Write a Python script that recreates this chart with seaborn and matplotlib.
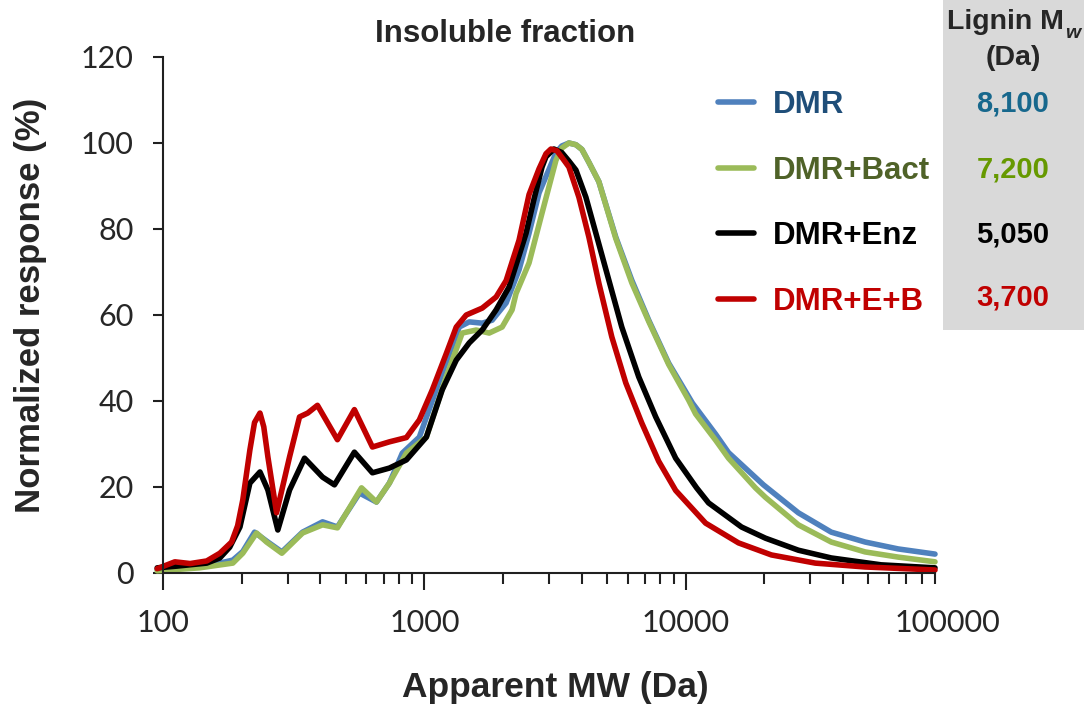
import numpy as np
import pandas as pd
import matplotlib
matplotlib.use("Agg")
import matplotlib.pyplot as plt
import seaborn as sns
from matplotlib.patches import Rectangle
from matplotlib.lines import Line2D
from matplotlib.ticker import FixedLocator, LogLocator, NullFormatter, FuncFormatter
from matplotlib.font_manager import FontProperties

# ---------------- data ----------------
series_names = ["DMR", "DMR+Bact", "DMR+Enz", "DMR+E+B"]

dmr_mw = [95, 147, 185, 202, 224, 252, 285, 342, 408, 465, 565, 656, 735, 824, 957,
          1171, 1360, 1485, 1665, 1818, 2056, 2304, 2516, 2748, 3190, 3356, 3576, 3804,
          4010, 4264, 4656, 5404, 6221, 7223, 8612, 10620, 13020, 14590, 19850, 27000,
          36080, 48640, 65010, 90000]
dmr_resp = [0.8, 1.6, 3.0, 5.0, 9.5, 7.2, 4.9, 9.5, 11.9, 10.7, 18.6, 16.5, 20.9, 27.9, 31.6,
            46.5, 57.2, 58.4, 58.1, 58.8, 62.8, 70.5, 79.0, 88.4, 97.7, 99.3, 100.0, 99.6,
            98.5, 95.5, 91.0, 78.1, 68.1, 58.8, 48.8, 39.5, 32.3, 28.0, 20.5, 14.0,
            9.5, 7.2, 5.6, 4.4]

bact_mw = [95, 138, 185, 202, 228, 249, 285, 342, 408, 465, 575, 656, 735, 854, 1018,
           1213, 1396, 1579, 1771, 1985, 2167, 2244, 2516, 2821, 3190, 3356, 3576, 3804,
           4010, 4264, 4656, 5404, 6221, 7223, 8612, 10268, 10919, 13020, 14590, 18500,
           20200, 27000, 36080, 48640, 65010, 90000]
bact_resp = [0.5, 1.2, 2.3, 4.6, 9.3, 7.2, 4.6, 9.3, 11.2, 10.5, 19.8, 16.5, 20.9, 27.9, 31.6,
             45.6, 55.8, 56.5, 55.8, 57.2, 61.2, 65.0, 72.1, 83.7, 96.0, 98.8, 100.0, 99.6,
             98.5, 95.5, 91.0, 77.8, 67.5, 58.5, 48.5, 40.2, 37.0, 30.9, 26.7, 19.8,
             17.6, 11.2, 7.2, 4.9, 3.7, 2.6]

enz_mw = [95, 113, 147, 165, 180, 197, 215, 235, 252, 275, 305, 348, 408, 453, 540, 633,
          735, 854, 1018, 1171, 1325, 1485, 1665, 1883, 2110, 2451, 2630, 2821, 2921, 3134,
          3356, 3576, 3804, 4152, 4535, 5083, 5697, 6616, 7683, 9159, 11015, 12240, 16359,
          20200, 27000, 36080, 55990, 90000]
enz_resp = [1.2, 1.6, 2.3, 3.5, 6.0, 10.7, 20.9, 23.5, 19.3, 10.0, 19.3, 26.7, 22.3, 20.5, 28.1, 23.3,
            24.4, 26.3, 31.6, 42.6, 49.5, 53.5, 56.5, 61.2, 66.5, 79.0, 87.0, 94.4, 96.8, 98.6,
            97.8, 95.8, 93.7, 87.4, 79.0, 68.1, 57.2, 45.6, 36.3, 26.7, 19.8, 16.3, 10.7,
            8.1, 5.3, 3.5, 1.9, 1.2]

eb_mw = [95, 111, 127, 147, 165, 183, 193, 202, 215, 224, 235, 243, 252, 272, 305, 333,
         358, 390, 465, 540, 633, 735, 854, 957, 1073, 1213, 1325, 1447, 1665, 1883,
         2056, 2304, 2516, 2748, 2921, 3052, 3218, 3422, 3576, 3904, 4264, 4656, 5218,
         5902, 6793, 7885, 9159, 11922, 15934, 21290, 31340, 48640, 90000]
eb_resp = [1.0, 2.6, 2.2, 2.8, 4.6, 7.2, 11.0, 17.0, 28.6, 35.0, 37.2, 34.0, 27.0, 14.0, 27.0, 36.3,
           37.2, 39.0, 31.0, 38.0, 29.3, 30.5, 31.5, 35.6, 42.6, 51.0, 57.2, 60.0, 61.6, 64.2,
           68.0, 77.4, 88.0, 94.0, 97.5, 98.6, 98.2, 96.0, 94.4, 87.4, 78.1, 67.4, 54.9,
           44.2, 34.9, 26.0, 19.2, 11.6, 7.0, 4.2, 2.3, 1.4, 0.7]

lignin_mw_labels = ["8,100", "7,200", "5,050", "3,700"]
x_tick_values = [100, 1000, 10000]
x_extra_tick = 100000
y_tick_values = [0, 20, 40, 60, 80, 100, 120]

# ---------------- styles ----------------
line_colors = ["#4f81bd", "#9bbb59", "#000000", "#c00000"]
label_colors = ["#1f4e79", "#4f6228", "#000000", "#c00000"]
value_colors = ["#17688d", "#669900", "#000000", "#c00000"]

frames = []
for name, mw, resp in zip(series_names,
                          [dmr_mw, bact_mw, enz_mw, eb_mw],
                          [dmr_resp, bact_resp, enz_resp, eb_resp]):
    frames.append(pd.DataFrame({"MW": mw, "resp": resp, "series": name}))
df = pd.concat(frames, ignore_index=True)

sns.set_style("ticks")
plt.rcParams["font.family"] = ["Liberation Sans", "DejaVu Sans"]

W, H = 1084, 709
fig = plt.figure(figsize=(W / 100, H / 100), dpi=100)
ax = fig.add_axes([163 / W, 1 - 573 / H, (935 - 163) / W, (573 - 57) / H])
ax.patch.set_alpha(0)

ax.set_xscale("log")
sns.lineplot(data=df, x="MW", y="resp", hue="series", hue_order=series_names,
             palette=line_colors, estimator=None, sort=False, linewidth=4,
             ax=ax, legend=False)
for ln in ax.lines:
    ln.set_clip_on(False)
    ln.set_solid_capstyle("round")
    ln.set_solid_joinstyle("round")

ax.set_xlim(100, 90000)
ax.set_ylim(0, 120)
ax.set_xlabel("")
ax.set_ylabel("")

ax.xaxis.set_major_locator(FixedLocator(x_tick_values))
ax.xaxis.set_major_formatter(FuncFormatter(lambda v, p: f"{int(round(v))}"))
ax.xaxis.set_minor_locator(LogLocator(base=10, subs=np.arange(2, 10)))
ax.xaxis.set_minor_formatter(NullFormatter())
ax.yaxis.set_major_locator(FixedLocator(y_tick_values))

for s in ["top", "right"]:
    ax.spines[s].set_visible(False)
for s in ["left", "bottom"]:
    ax.spines[s].set_linewidth(1.5)
    ax.spines[s].set_color("#202020")

tick_font = "Lato"
xpad = 14
xlen = 12
ax.tick_params(axis="x", which="major", length=xlen, width=1.5, direction="out",
               pad=xpad, labelsize=22, color="#202020")
ax.tick_params(axis="x", which="minor", length=8, width=1.5, direction="out", color="#202020")
ax.tick_params(axis="y", which="major", length=7, width=1.5, direction="out",
               pad=14, labelsize=22, color="#202020")
for lab in ax.get_xticklabels() + ax.get_yticklabels():
    lab.set_family(tick_font)

ax.annotate(str(x_extra_tick), xy=(x_extra_tick, 0), xycoords=("data", "axes fraction"),
            xytext=(0, -(xlen + xpad)), textcoords="offset points",
            ha="center", va="top", fontsize=22, family=tick_font, annotation_clip=False)

# titles / axis labels
fig.text(505 / W, 1 - 34 / H, "Insoluble fraction", ha="center", va="center",
         fontsize=22.5, fontweight="bold")
fig.text(31 / W, 1 - 305 / H, "Normalized response (%)", rotation=90, ha="center",
         va="center", fontsize=25, fontweight="bold")
fig.text(555 / W, 1 - 688 / H, "Apparent MW (Da)", ha="center", va="center",
         fontsize=25.5, fontweight="bold")

# legend
handles = [Line2D([], [], color=c, lw=4) for c in line_colors]
ax.legend(handles, series_names, loc="upper left",
          bbox_to_anchor=(718 / W, 1 - 90 / H), bbox_transform=fig.transFigure,
          frameon=False, prop=FontProperties(family="Liberation Sans", weight="bold", size=22.5),
          labelcolor=label_colors, handlelength=1.15, handletextpad=0.62,
          labelspacing=1.14, borderpad=0, borderaxespad=0)

# right-hand Mw panel
fig.patches.append(Rectangle((943 / W, 1 - 330 / H), (W - 943) / W, 330 / H,
                             transform=fig.transFigure, facecolor="#d9d9d9",
                             edgecolor="none", zorder=0))
head = fig.text(947 / W, 1 - 22 / H, "Lignin M", ha="left", va="center",
                fontsize=20.5, fontweight="bold")
fig.canvas.draw()
bb = head.get_window_extent(renderer=fig.canvas.get_renderer())
fig.text((bb.x1 + 1) / W, 1 - 33 / H, "w", ha="left", va="center",
         fontsize=14, fontweight="bold", fontstyle="italic")
fig.text(1013 / W, 1 - 58 / H, "(Da)", ha="center", va="center",
         fontsize=20.5, fontweight="bold")
for lbl, col, yy in zip(lignin_mw_labels, value_colors, [103, 170, 235, 298]):
    fig.text(1013 / W, 1 - yy / H, lbl, ha="center", va="center",
             fontsize=21, fontweight="bold", color=col)

fig.savefig("out.png", dpi=100)
